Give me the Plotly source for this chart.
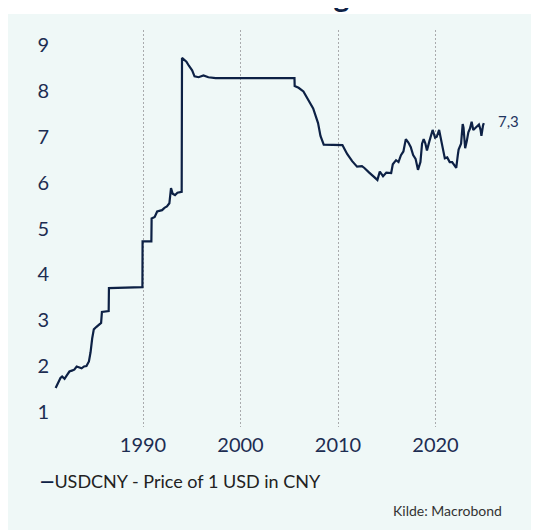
import plotly.graph_objects as go

# ---- data ----
dates = [
    "1981-01-15", "1981-04-15", "1981-07-15", "1981-09-15", "1981-12-15",
    "1982-03-15", "1982-06-15", "1982-09-15", "1982-12-15",
    "1983-03-15", "1983-06-15", "1983-09-15", "1983-12-15",
    "1984-03-15", "1984-06-15", "1984-08-15", "1984-10-15", "1984-12-15",
    "1985-03-15", "1985-06-15", "1985-09-15", "1985-10-15",
    "1986-03-15", "1986-06-25", "1986-07-05",
    "1989-12-10", "1989-12-16",
    "1990-11-10", "1990-11-20",
    "1991-03-15", "1991-06-15", "1991-12-15",
    "1992-03-15", "1992-06-15", "1992-09-15", "1992-11-15",
    "1993-01-15", "1993-04-15", "1993-07-15", "1993-12-20",
    "1994-01-01", "1994-06-15", "1994-09-15",
    "1995-01-15", "1995-04-15", "1995-09-15",
    "1996-03-15", "1996-09-15", "1997-06-15",
    "2005-07-15", "2005-07-22", "2005-12-15",
    "2006-06-15", "2006-12-15", "2007-06-15", "2007-12-15",
    "2008-03-15", "2008-07-15", "2009-06-15", "2010-06-15",
    "2010-09-15", "2010-12-15", "2011-06-15", "2011-12-15",
    "2012-06-15", "2012-09-15", "2013-03-15", "2013-09-15",
    "2014-01-15", "2014-04-15", "2014-08-15", "2014-12-15",
    "2015-06-15", "2015-08-15", "2015-12-15",
    "2016-03-15", "2016-06-15", "2016-09-15", "2016-12-15",
    "2017-03-15", "2017-06-15", "2017-09-15", "2017-12-15",
    "2018-03-15", "2018-06-15", "2018-08-15", "2018-10-15", "2018-12-15",
    "2019-02-15", "2019-05-15", "2019-09-15", "2019-12-15",
    "2020-02-15", "2020-05-15", "2020-08-15", "2020-12-15",
    "2021-03-15", "2021-06-15", "2021-09-15", "2021-12-15",
    "2022-02-15", "2022-04-15", "2022-05-15", "2022-08-15", "2022-10-15", "2022-11-15",
    "2023-01-15", "2023-03-15", "2023-05-15", "2023-07-15", "2023-09-15", "2023-11-15",
    "2024-01-15", "2024-03-15", "2024-06-15", "2024-08-15", "2024-09-15",
    "2024-11-15", "2024-12-15",
]
usdcny = [
    1.52, 1.62, 1.74, 1.77, 1.72,
    1.80, 1.88, 1.90, 1.92,
    1.99, 1.97, 1.95, 1.99,
    2.00, 2.10, 2.30, 2.60, 2.80,
    2.85, 2.90, 2.94, 3.18,
    3.20, 3.20, 3.70,
    3.72, 4.72,
    4.72, 5.22,
    5.25, 5.37, 5.40,
    5.45, 5.48, 5.55, 5.88,
    5.76, 5.73, 5.78, 5.80,
    8.72, 8.64, 8.55,
    8.45, 8.32, 8.30,
    8.34, 8.30, 8.28,
    8.28, 8.11, 8.07,
    7.99, 7.81, 7.62, 7.30,
    7.02, 6.83, 6.83, 6.82,
    6.72, 6.62, 6.47, 6.35,
    6.36, 6.32, 6.22, 6.12,
    6.06, 6.24, 6.14, 6.22,
    6.21, 6.40, 6.49,
    6.45, 6.60, 6.68, 6.95,
    6.88, 6.78, 6.60, 6.52,
    6.28, 6.45, 6.85, 6.95, 6.86,
    6.70, 6.90, 7.15, 6.98,
    7.00, 7.15, 6.90, 6.53,
    6.55, 6.45, 6.45, 6.36,
    6.32, 6.60, 6.72, 6.85, 7.28, 7.20,
    6.75, 6.90, 7.10, 7.18, 7.33, 7.15,
    7.18, 7.22, 7.27, 7.15, 7.02,
    7.25, 7.30,
]
series_name = "USDCNY - Price of 1 USD in CNY"
x_tick_years = ["1990", "2000", "2010", "2020"]
y_ticks = [1, 2, 3, 4, 5, 6, 7, 8, 9]
title_text = "Yuanen er blevet svagere"
source_text = "Kilde: Macrobond"

NAVY = "#0d2145"
LABEL = "#1d2d52"
PANEL = "#eff8f7"
FONT = "Lato, 'Noto Sans', sans-serif"

# the page has an 8px body margin; the figure starts at (8, 8) in the window
W, H = 539, 532
ML, MR, MT, MB = 44, 13, 22, 113
PW, PH = W - ML - MR, H - MT - MB


def px_x(p):  # p in figure pixels
    return (p - ML) / PW


def px_y(p):
    return (H - MB - p) / PH


fig = go.Figure()
fig.add_trace(go.Scatter(
    x=dates, y=usdcny, mode="lines", name=series_name,
    line=dict(color=NAVY, width=2.2), showlegend=False,
))

last_label = f"{usdcny[-1]:.1f}".replace(".", ",")

fig.update_layout(
    width=W, height=H,
    margin=dict(l=ML, r=MR, t=MT, b=MB),
    paper_bgcolor="white",
    plot_bgcolor=PANEL,
    font=dict(family=FONT, color=LABEL),
    xaxis=dict(
        type="date",
        range=["1980-09-01", "2030-02-06"],
        tickvals=[f"{y}-01-01" for y in x_tick_years],
        ticktext=x_tick_years,
        showgrid=True, gridcolor="#a9abad", gridwidth=1, griddash="2px,2px",
        zeroline=False, showline=False, ticks="",
        tickfont=dict(size=20, color=LABEL),
        ticklabelstandoff=4,
    ),
    yaxis=dict(
        range=[0.67, 9.33],
        tickvals=y_ticks,
        showgrid=False, zeroline=False, showline=False, ticks="",
        tickfont=dict(size=20, color=LABEL),
        ticklabelstandoff=2,
    ),
    shapes=[dict(
        type="rect", xref="paper", yref="paper", layer="below",
        x0=px_x(0), x1=px_x(545), y0=px_y(522), y1=px_y(6),
        fillcolor=PANEL, line=dict(width=0),
    )],
    annotations=[
        dict(
            x=dates[-1], y=usdcny[-1], xref="x", yref="y",
            text=last_label, showarrow=False, xanchor="left", yanchor="middle",
            xshift=12, yshift=2, font=dict(size=15, color="#1f3560", family=FONT),
        ),
        dict(
            x=px_x(30), y=px_y(473), xref="paper", yref="paper",
            text=f"<span style='color:{NAVY}'><b>—</b></span>{series_name}",
            showarrow=False, xanchor="left", yanchor="middle",
            font=dict(size=18, color="#222222", family=FONT),
        ),
        dict(
            x=px_x(496), y=px_y(502), xref="paper", yref="paper",
            text=source_text, showarrow=False, xanchor="right", yanchor="middle",
            font=dict(size=14, color="#333333", family=FONT),
        ),
        dict(
            x=px_x(50), y=px_y(6), xref="paper", yref="paper",
            text=f"<b>{title_text}</b>", showarrow=False,
            xanchor="left", yanchor="bottom", borderpad=0,
            font=dict(size=30, color=NAVY, family=FONT),
        ),
    ],
)

fig.write_html("out.html")
